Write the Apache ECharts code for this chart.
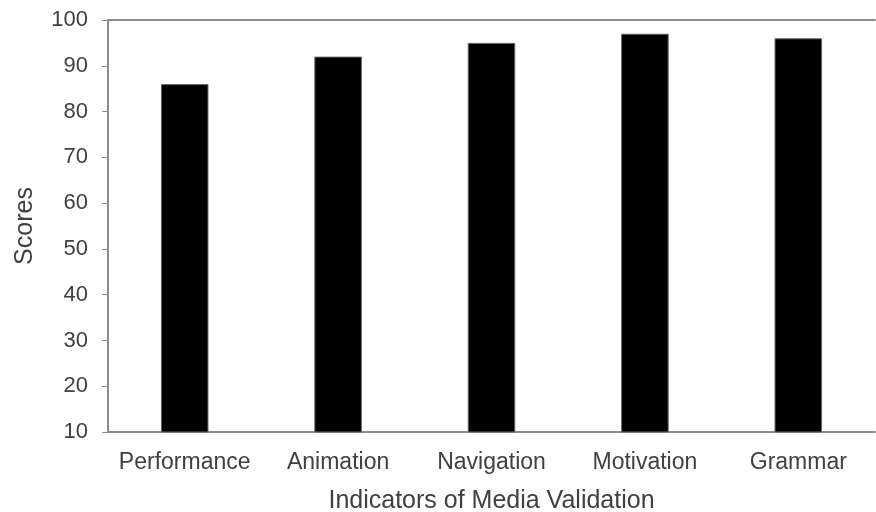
<!DOCTYPE html>
<html>
<head>
<meta charset="utf-8">
<script src="https://cdn.jsdelivr.net/npm/echarts@6/dist/echarts.min.js"></script>
<style>
  html, body { margin: 0; padding: 0; background: #fff; }
  #chart { width: 876px; height: 512px; }
</style>
</head>
<body>
<div id="chart"></div>
<script>
// categories and values
const categories = ['Performance', 'Animation', 'Navigation', 'Motivation', 'Grammar'];
const scores = [86, 92, 95, 97, 96];
const yMin = 10;
const yMax = 100;
const yStep = 10;

const font = 'Liberation Sans, Arial, sans-serif';
const textColor = '#404040';
const lineColor = '#8c8c8c';

const chart = echarts.init(document.getElementById('chart'));
const option = {
    animation: false,
    grid: { left: 108, right: 1, top: 20, bottom: 80, outerBoundsMode: 'none', containLabel: false },
    xAxis: [{
        type: 'category',
        data: categories,
        name: 'Indicators of Media Validation',
        nameLocation: 'middle',
        nameGap: 57,
        nameTextStyle: { fontFamily: font, fontSize: 25, color: textColor },
        axisLine: { lineStyle: { color: lineColor, width: 2 } },
        axisTick: { show: false },
        axisLabel: { fontFamily: font, fontSize: 23, color: textColor, margin: 19, interval: 0, hideOverlap: false }
    }, {
        // top border line at 100
        type: 'category',
        data: categories,
        position: 'top',
        axisLine: { lineStyle: { color: lineColor, width: 2 } },
        axisTick: { show: false },
        axisLabel: { show: false }
    }],
    yAxis: {
        type: 'value',
        min: yMin,
        max: yMax,
        interval: yStep,
        name: 'Scores',
        nameLocation: 'middle',
        nameGap: 70,
        nameTextStyle: { fontFamily: font, fontSize: 25, color: textColor },
        axisLine: { show: true, lineStyle: { color: lineColor, width: 2 } },
        axisTick: { show: true, length: 6, lineStyle: { color: lineColor } },
        axisLabel: { fontFamily: font, fontSize: 22, color: textColor, margin: 20 },
        splitLine: { show: false }
    },
    series: [{
        type: 'bar',
        data: scores,
        barWidth: '31%',
        itemStyle: { color: '#000', borderColor: '#666', borderWidth: 1 }
    }]
};
chart.setOption(option);
</script>
</body>
</html>
